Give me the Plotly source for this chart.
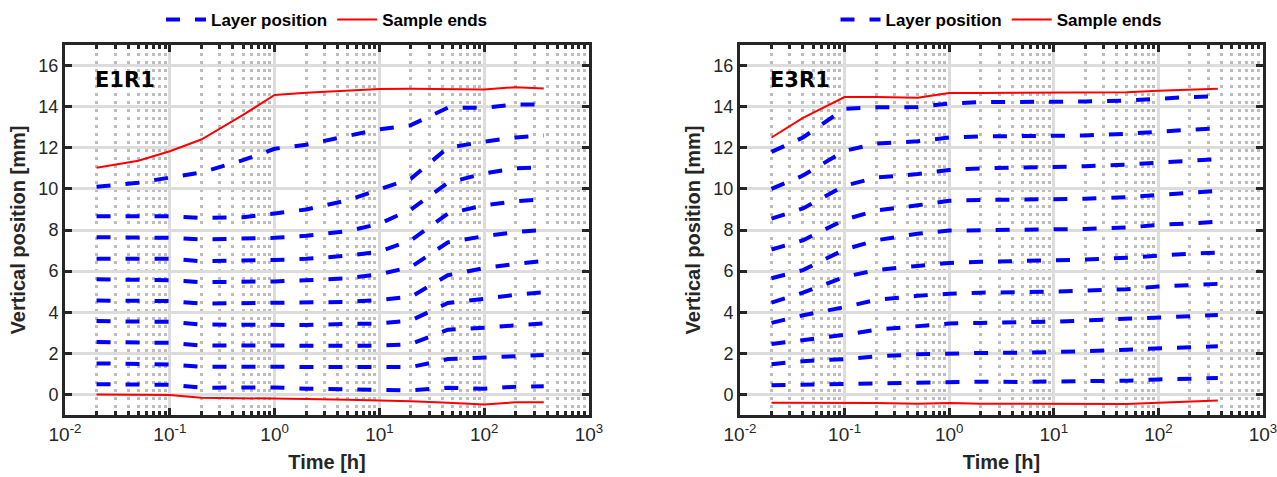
"""Layer positions over time for samples E1R1 and E3R1 (log time axis)."""

import plotly.graph_objects as go
from plotly.subplots import make_subplots

# --- data -----------------------------------------------------------------
TIME_E1R1 = [0.02, 0.05, 0.1, 0.2, 0.5, 1, 2, 5, 10, 20, 45, 100, 200, 370]
LAYERS_E1R1 = [
    [10.1, 10.3, 10.55, 10.8, 11.4, 11.95, 12.15, 12.6, 12.9, 13.1, 13.95, 13.95, 14.1, 14.1],
    [8.67, 8.67, 8.67, 8.58, 8.62, 8.8, 9.0, 9.45, 9.95, 10.5, 12.0, 12.3, 12.5, 12.6],
    [7.65, 7.65, 7.62, 7.54, 7.57, 7.62, 7.72, 7.95, 8.3, 9.0, 10.3, 10.75, 11.0, 11.05],
    [6.6, 6.6, 6.6, 6.48, 6.5, 6.54, 6.6, 6.75, 6.95, 7.5, 8.8, 9.2, 9.4, 9.5],
    [5.6, 5.58, 5.56, 5.46, 5.47, 5.5, 5.55, 5.65, 5.85, 6.2, 7.4, 7.7, 7.9, 8.0],
    [4.57, 4.56, 4.54, 4.42, 4.44, 4.45, 4.46, 4.5, 4.6, 4.75, 5.8, 6.15, 6.35, 6.5],
    [3.57, 3.56, 3.53, 3.4, 3.4, 3.4, 3.38, 3.43, 3.45, 3.6, 4.45, 4.65, 4.85, 4.97],
    [2.55, 2.54, 2.51, 2.38, 2.38, 2.37, 2.35, 2.35, 2.37, 2.45, 3.15, 3.25, 3.38, 3.45],
    [1.51, 1.5, 1.46, 1.35, 1.35, 1.35, 1.31, 1.32, 1.32, 1.33, 1.72, 1.8, 1.9, 1.92],
    [0.5, 0.5, 0.47, 0.33, 0.35, 0.34, 0.28, 0.25, 0.22, 0.2, 0.33, 0.28, 0.38, 0.4],
]
TOP_E1R1 = [11.03, 11.37, 11.83, 12.4, 13.6, 14.57, 14.68, 14.8, 14.86, 14.87, 14.86, 14.83, 14.95, 14.88]
BOTTOM_E1R1 = [0.0, 0.0, -0.03, -0.16, -0.17, -0.2, -0.22, -0.26, -0.29, -0.33, -0.4, -0.49, -0.38, -0.38]

TIME_E3R1 = [0.02, 0.04, 0.1, 0.2, 0.5, 1, 2, 5, 10, 20, 50, 100, 200, 370]
LAYERS_E3R1 = [
    [11.8, 12.5, 13.9, 13.97, 13.98, 14.15, 14.22, 14.22, 14.22, 14.25, 14.3, 14.4, 14.47, 14.5],
    [10.0, 10.65, 11.85, 12.2, 12.32, 12.5, 12.55, 12.56, 12.58, 12.6, 12.68, 12.8, 12.88, 12.95],
    [8.55, 9.05, 10.15, 10.55, 10.72, 10.92, 11.0, 11.03, 11.05, 11.1, 11.18, 11.28, 11.38, 11.45],
    [7.05, 7.5, 8.5, 8.95, 9.2, 9.42, 9.46, 9.48, 9.5, 9.52, 9.6, 9.72, 9.82, 9.9],
    [5.65, 6.05, 7.05, 7.5, 7.82, 7.97, 7.99, 8.0, 8.02, 8.05, 8.12, 8.25, 8.32, 8.4],
    [4.47, 4.95, 5.72, 6.05, 6.25, 6.4, 6.45, 6.48, 6.52, 6.56, 6.65, 6.77, 6.85, 6.9],
    [3.48, 3.85, 4.25, 4.6, 4.8, 4.9, 4.95, 4.96, 5.0, 5.05, 5.12, 5.25, 5.32, 5.38],
    [2.45, 2.65, 2.9, 3.15, 3.3, 3.45, 3.48, 3.5, 3.54, 3.6, 3.68, 3.77, 3.82, 3.86],
    [1.47, 1.62, 1.72, 1.85, 1.95, 2.0, 2.02, 2.03, 2.05, 2.1, 2.18, 2.24, 2.29, 2.34],
    [0.45, 0.48, 0.52, 0.57, 0.6, 0.63, 0.62, 0.61, 0.62, 0.64, 0.67, 0.73, 0.77, 0.8],
]
TOP_E3R1 = [12.5, 13.45, 14.47, 14.47, 14.43, 14.67, 14.67, 14.67, 14.67, 14.68, 14.7, 14.78, 14.82, 14.87]
BOTTOM_E3R1 = [-0.4, -0.4, -0.41, -0.42, -0.45, -0.42, -0.45, -0.46, -0.46, -0.46, -0.47, -0.4, -0.35, -0.3]

X_TICK_VALS = [0.01, 0.1, 1, 10, 100, 1000]
X_TICK_TEXT = ["10<sup>-2</sup>", "10<sup>-1</sup>", "10<sup>0</sup>", "10<sup>1</sup>",
               "10<sup>2</sup>", "10<sup>3</sup>"]
X_MINOR_VALS = [k * d for d in (0.01, 0.1, 1, 10, 100) for k in range(2, 10)]
Y_TICK_VALS = [0, 2, 4, 6, 8, 10, 12, 14, 16]

PANEL_NAMES = ["E1R1", "E3R1"]

# --- style ----------------------------------------------------------------
BLUE = "#0000ff"
RED = "#ff0000"
AXIS_COLOR = "#262626"
FONT = "Liberation Sans, Arial, sans-serif"

X_DOMAINS = [(65 / 1277, 589 / 1277), (740 / 1277, 1263 / 1277)]
Y_DOMAIN = (1 - 415 / 477, 1 - 45 / 477)


def _add_panel(fig, col, times, layers, top, bottom, legend_id):
    for i, layer in enumerate(layers):
        fig.add_trace(go.Scatter(
            x=times, y=layer, mode="lines", name="Layer position",
            line=dict(color=BLUE, width=4, dash="14px,15px"),
            showlegend=(i == 0), legend=legend_id, hoverinfo="skip",
        ), row=1, col=col)
    for j, ends in enumerate((top, bottom)):
        fig.add_trace(go.Scatter(
            x=times, y=ends, mode="lines", name="Sample ends",
            line=dict(color=RED, width=2),
            showlegend=(j == 0), legend=legend_id, hoverinfo="skip",
        ), row=1, col=col)


def _style_axes(fig, col):
    fig.update_xaxes(
        type="log", range=[-2, 3], domain=X_DOMAINS[col - 1], automargin=False,
        tickmode="array", tickvals=X_TICK_VALS, ticktext=X_TICK_TEXT,
        ticklabeloverflow="allow",
        ticks="inside", ticklen=7, tickwidth=2.5, tickcolor=AXIS_COLOR,
        showline=True, linewidth=3, linecolor=AXIS_COLOR, mirror="ticks",
        showgrid=True, gridcolor="#dcdcdc", gridwidth=3, zeroline=False,
        minor=dict(tickmode="array", tickvals=X_MINOR_VALS, ticks="inside", ticklen=4,
                   tickwidth=2.5, tickcolor=AXIS_COLOR, showgrid=True,
                   gridcolor="#bdbdbd", gridwidth=3, griddash="3px,5px"),
        tickfont=dict(family=FONT, size=19, color=AXIS_COLOR),
        title=dict(text="<b>Time [h]</b>", font=dict(family=FONT, size=20, color=AXIS_COLOR),
                   standoff=12),
        row=1, col=col,
    )
    fig.update_yaxes(
        range=[-1, 17], domain=Y_DOMAIN, automargin=False,
        tickmode="array", tickvals=Y_TICK_VALS,
        ticks="inside", ticklen=7, tickwidth=2.5, tickcolor=AXIS_COLOR,
        showline=True, linewidth=3, linecolor=AXIS_COLOR, mirror="ticks",
        showgrid=True, gridcolor="#dcdcdc", gridwidth=3, zeroline=False,
        tickfont=dict(family=FONT, size=18, color=AXIS_COLOR),
        title=dict(text="<b>Vertical position [mm]</b>",
                   font=dict(family=FONT, size=20, color=AXIS_COLOR), standoff=8),
        row=1, col=col,
    )


fig = make_subplots(rows=1, cols=2)
_add_panel(fig, 1, TIME_E1R1, LAYERS_E1R1, TOP_E1R1, BOTTOM_E1R1, "legend")
_add_panel(fig, 2, TIME_E3R1, LAYERS_E3R1, TOP_E3R1, BOTTOM_E3R1, "legend2")
_style_axes(fig, 1)
_style_axes(fig, 2)

# tick labels are bold in the reference
fig.update_xaxes(tickprefix="<b>", ticksuffix="</b>")
fig.update_yaxes(tickprefix="<b>", ticksuffix="</b>")

for col, name in enumerate(PANEL_NAMES, start=1):
    xref = "x domain" if col == 1 else "x2 domain"
    yref = "y domain" if col == 1 else "y2 domain"
    fig.add_annotation(
        text=f"<b>{name}</b>", xref=xref, yref=yref, x=0.053, y=0.905,
        xanchor="left", yanchor="middle", showarrow=False,
        font=dict(family="DejaVu Sans", size=21, color="black"),
    )

legend_style = dict(
    orientation="h", yanchor="middle", y=1 - 20 / 477, xanchor="center",
    font=dict(family=FONT, size=17, color="black", weight="bold"),
    bgcolor="rgba(0,0,0,0)", itemwidth=40,
)
fig.update_layout(
    width=1277, height=477,
    margin=dict(l=0, r=0, t=0, b=0, autoexpand=False),
    paper_bgcolor="white", plot_bgcolor="white",
    legend=dict(legend_style, x=sum(X_DOMAINS[0]) / 2),
    legend2=dict(legend_style, x=sum(X_DOMAINS[1]) / 2),
)

# the page's default body margin would shift the figure by 8 px
fig.write_html("out.html", config={"displayModeBar": False},
               post_script="document.body.style.margin = '0px';")
